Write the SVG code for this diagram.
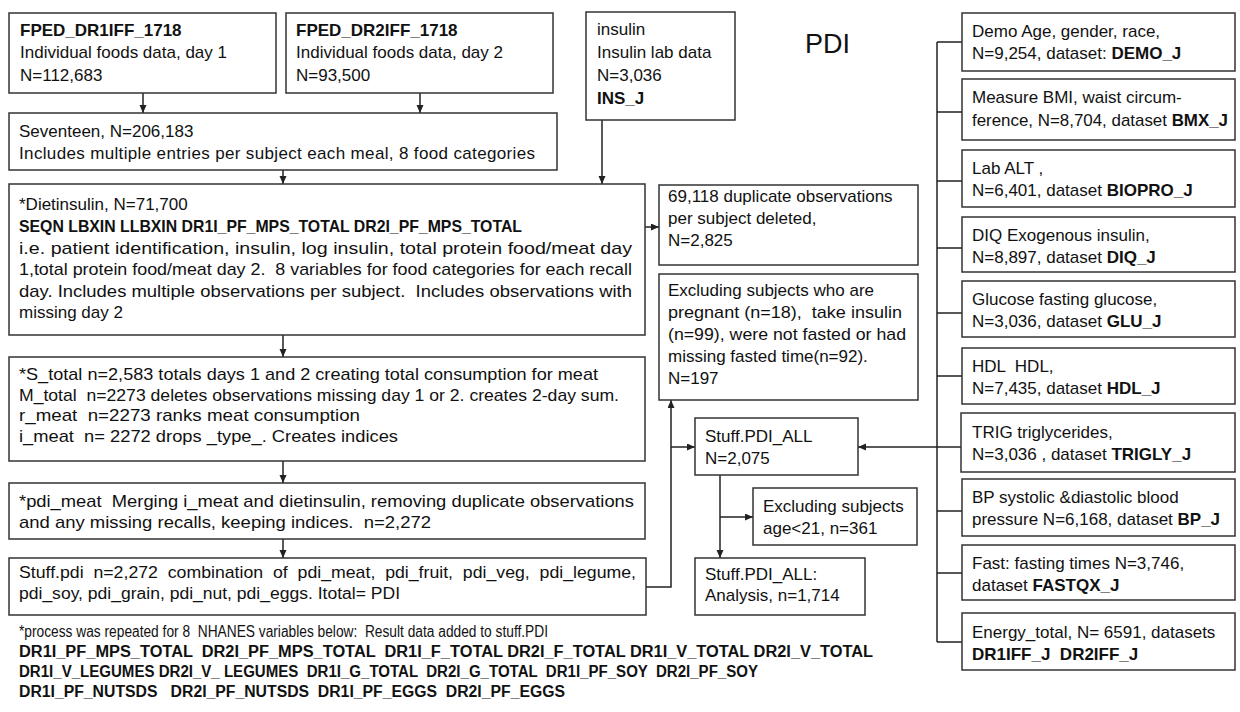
<svg xmlns="http://www.w3.org/2000/svg" width="1240" height="712" viewBox="0 0 1240 712" xml:space="preserve">
<style>
text{font-family:"Liberation Sans",Arial,sans-serif;font-size:17px;fill:#111;white-space:pre}
.b{font-weight:bold}
.c{font-size:16px}
rect{fill:#fff;stroke:#333;stroke-width:1.5}
.conn path{fill:none;stroke:#222;stroke-width:1.5}
.title{font-size:27px}
</style>
<defs>
<marker id="ah" markerUnits="userSpaceOnUse" markerWidth="9" markerHeight="8" refX="8" refY="3.5" orient="auto"><path d="M0,0 L8,3.5 L0,7 z" fill="#222"/></marker>
</defs>
<rect x="0" y="0" width="1240" height="712" style="stroke:none"/>
<text class="title" x="805" y="53">PDI</text>
<g class="conn">
<path d="M143,93 V113" marker-end="url(#ah)"/>
<path d="M420,93 V113" marker-end="url(#ah)"/>
<path d="M283,170 V184" marker-end="url(#ah)"/>
<path d="M602,120 V184" marker-end="url(#ah)"/>
<path d="M645,227 H659" marker-end="url(#ah)"/>
<path d="M283,335 V357" marker-end="url(#ah)"/>
<path d="M283,461 V483" marker-end="url(#ah)"/>
<path d="M283,539 V558" marker-end="url(#ah)"/>
<path d="M646,587 H671 V400" marker-end="url(#ah)"/>
<path d="M671,447 H695" marker-end="url(#ah)"/>
<path d="M937,42 V642"/>
<path d="M937,42 H962 M937,112 H962 M937,181 H962 M937,248 H962 M937,313 H962 M937,376 H962 M937,511 H962 M937,573 H962 M937,642 H962"/>
<path d="M962,447 H858" marker-end="url(#ah)"/>
<path d="M720,475 V558" marker-end="url(#ah)"/>
<path d="M720,517 H753" marker-end="url(#ah)"/>
</g>
<g id="fped1">
<rect x="9" y="13" width="267" height="80"/>
<text class="b" x="20" y="36">FPED_DR1IFF_1718</text>
<text x="20" y="58">Individual foods data, day 1</text>
<text x="20" y="81">N=112,683</text>
</g>
<g id="fped2">
<rect x="286" y="13" width="267" height="80"/>
<text class="b" x="296" y="36">FPED_DR2IFF_1718</text>
<text x="296" y="58">Individual foods data, day 2</text>
<text x="296" y="81">N=93,500</text>
</g>
<g id="insulin">
<rect x="586" y="12" width="149" height="108"/>
<text x="597" y="35">insulin</text>
<text x="597" y="58">Insulin lab data</text>
<text x="597" y="81">N=3,036</text>
<text class="b" x="597" y="104">INS_J</text>
</g>
<g id="seventeen">
<rect x="9" y="113" width="548" height="57"/>
<text x="19" y="137">Seventeen, N=206,183</text>
<text x="19" y="159" textLength="516">Includes multiple entries per subject each meal, 8 food categories</text>
</g>
<g id="dietinsulin">
<rect x="9" y="184" width="636" height="151"/>
<text x="19" y="210">*Dietinsulin, N=71,700</text>
<text class="b" x="19" y="232" textLength="503" lengthAdjust="spacingAndGlyphs">SEQN LBXIN LLBXIN DR1I_PF_MPS_TOTAL DR2I_PF_MPS_TOTAL</text>
<text x="19" y="254" textLength="613" lengthAdjust="spacingAndGlyphs">i.e. patient identification, insulin, log insulin, total protein food/meat day</text>
<text x="19" y="275" textLength="613" lengthAdjust="spacingAndGlyphs">1,total protein food/meat day 2.  8 variables for food categories for each recall</text>
<text x="19" y="297" textLength="613" lengthAdjust="spacingAndGlyphs">day. Includes multiple observations per subject.  Includes observations with</text>
<text x="19" y="318">missing day 2</text>
</g>
<g id="duplicates">
<rect x="659" y="185" width="259" height="80"/>
<text x="668" y="202">69,118 duplicate observations</text>
<text x="668" y="224">per subject deleted,</text>
<text x="668" y="246">N=2,825</text>
</g>
<g id="excluding">
<rect x="659" y="274" width="259" height="126"/>
<text x="668" y="296">Excluding subjects who are</text>
<text x="668" y="318" textLength="234" lengthAdjust="spacingAndGlyphs">pregnant (n=18),  take insulin</text>
<text x="668" y="340" textLength="238" lengthAdjust="spacingAndGlyphs">(n=99), were not fasted or had</text>
<text x="668" y="362">missing fasted time(n=92).</text>
<text x="668" y="384">N=197</text>
</g>
<g id="s_total">
<rect x="9" y="357" width="636" height="104"/>
<text x="19" y="380" textLength="579" lengthAdjust="spacingAndGlyphs">*S_total n=2,583 totals days 1 and 2 creating total consumption for meat</text>
<text x="19" y="401" textLength="600" lengthAdjust="spacingAndGlyphs">M_total  n=2273 deletes observations missing day 1 or 2. creates 2-day sum.</text>
<text x="19" y="421" textLength="341" lengthAdjust="spacingAndGlyphs">r_meat  n=2273 ranks meat consumption</text>
<text x="19" y="442" textLength="379" lengthAdjust="spacingAndGlyphs">i_meat  n= 2272 drops _type_. Creates indices</text>
</g>
<g id="pdi_meat">
<rect x="9" y="483" width="636" height="56"/>
<text x="19" y="507" textLength="615" lengthAdjust="spacingAndGlyphs">*pdi_meat  Merging i_meat and dietinsulin, removing duplicate observations</text>
<text x="19" y="528" textLength="412" lengthAdjust="spacingAndGlyphs">and any missing recalls, keeping indices.  n=2,272</text>
</g>
<g id="stuff_pdi">
<rect x="9" y="558" width="637" height="57"/>
<text x="19" y="578" textLength="617" lengthAdjust="spacingAndGlyphs">Stuff.pdi  n=2,272  combination  of  pdi_meat,  pdi_fruit,  pdi_veg,  pdi_legume,</text>
<text class="c" x="19" y="599" textLength="381" lengthAdjust="spacingAndGlyphs">pdi_soy, pdi_grain, pdi_nut, pdi_eggs. Itotal= PDI</text>
</g>
<g id="stuff_pdi_all">
<rect x="695" y="418" width="163" height="57"/>
<text x="705" y="442">Stuff.PDI_ALL</text>
<text x="705" y="464">N=2,075</text>
</g>
<g id="excl_age">
<rect x="753" y="488" width="164" height="57"/>
<text x="763" y="512">Excluding subjects</text>
<text x="763" y="534">age&lt;21, n=361</text>
</g>
<g id="analysis">
<rect x="695" y="558" width="170" height="57"/>
<text x="705" y="580">Stuff.PDI_ALL:</text>
<text x="705" y="601">Analysis, n=1,714</text>
</g>
<g id="notes">
<text class="c" x="19" y="637" textLength="529" lengthAdjust="spacingAndGlyphs">*process was repeated for 8  NHANES variables below:  Result data added to stuff.PDI</text>
<text class="c b" x="19" y="657" textLength="854" lengthAdjust="spacingAndGlyphs">DR1I_PF_MPS_TOTAL  DR2I_PF_MPS_TOTAL  DR1I_F_TOTAL DR2I_F_TOTAL DR1I_V_TOTAL DR2I_V_TOTAL</text>
<text class="c b" x="19" y="677" textLength="739" lengthAdjust="spacingAndGlyphs">DR1I_V_LEGUMES DR2I_V_ LEGUMES  DR1I_G_TOTAL  DR2I_G_TOTAL  DR1I_PF_SOY  DR2I_PF_SOY</text>
<text class="c b" x="19" y="697" textLength="546" lengthAdjust="spacingAndGlyphs">DR1I_PF_NUTSDS   DR2I_PF_NUTSDS  DR1I_PF_EGGS  DR2I_PF_EGGS</text>
</g>
<g id="demo">
<rect x="962" y="13" width="273" height="58"/>
<text x="972" y="37">Demo Age, gender, race,</text>
<text x="972" y="59">N=9,254, dataset: <tspan class="b">DEMO_J</tspan></text>
</g>
<g id="measure">
<rect x="962" y="79" width="273" height="61"/>
<text x="972" y="103">Measure BMI, waist circum-</text>
<text x="972" y="126" textLength="256" lengthAdjust="spacingAndGlyphs">ference, N=8,704, dataset <tspan class="b">BMX_J</tspan></text>
</g>
<g id="lab">
<rect x="962" y="150" width="273" height="57"/>
<text x="972" y="174">Lab ALT ,</text>
<text x="972" y="196">N=6,401, dataset <tspan class="b">BIOPRO_J</tspan></text>
</g>
<g id="diq">
<rect x="962" y="217" width="273" height="55"/>
<text x="972" y="241">DIQ Exogenous insulin,</text>
<text x="972" y="263">N=8,897, dataset <tspan class="b">DIQ_J</tspan></text>
</g>
<g id="glucose">
<rect x="962" y="281" width="273" height="56"/>
<text x="972" y="305">Glucose fasting glucose,</text>
<text x="972" y="327">N=3,036, dataset <tspan class="b">GLU_J</tspan></text>
</g>
<g id="hdl">
<rect x="962" y="348" width="273" height="56"/>
<text x="972" y="372">HDL  HDL,</text>
<text x="972" y="394">N=7,435, dataset <tspan class="b">HDL_J</tspan></text>
</g>
<g id="trig">
<rect x="961" y="413" width="274" height="59"/>
<text x="972" y="438">TRIG triglycerides,</text>
<text x="972" y="460">N=3,036 , dataset <tspan class="b">TRIGLY_J</tspan></text>
</g>
<g id="bp">
<rect x="962" y="479" width="273" height="57"/>
<text x="972" y="503">BP systolic &amp;diastolic blood</text>
<text x="972" y="525">pressure N=6,168, dataset <tspan class="b">BP_J</tspan></text>
</g>
<g id="fast">
<rect x="962" y="545" width="273" height="55"/>
<text x="972" y="569">Fast: fasting times N=3,746,</text>
<text x="972" y="591">dataset <tspan class="b">FASTQX_J</tspan></text>
</g>
<g id="energy">
<rect x="962" y="613" width="273" height="57"/>
<text x="972" y="638">Energy_total, N= 6591, datasets</text>
<text class="b" x="972" y="660">DR1IFF_J  DR2IFF_J</text>
</g>
</svg>
